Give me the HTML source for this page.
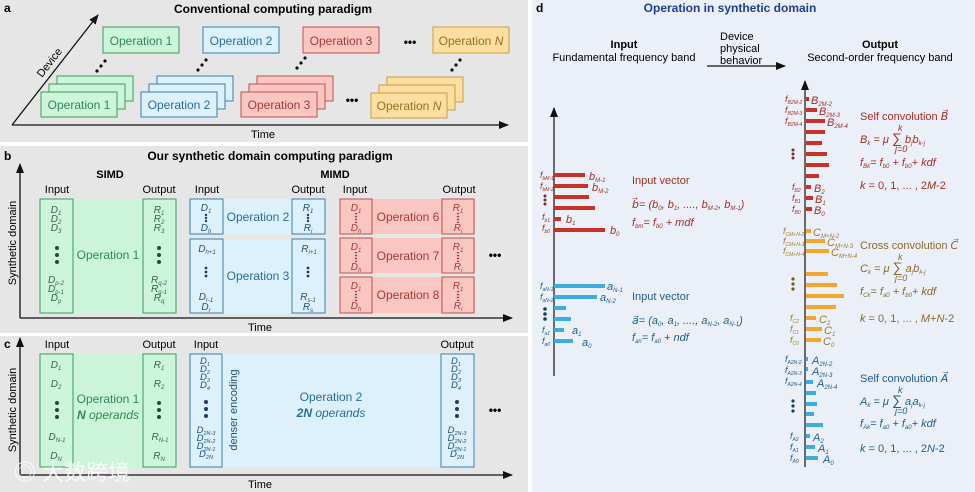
<!DOCTYPE html>
<html><head><meta charset="utf-8"><style>
html,body{margin:0;padding:0;background:#fff}
svg{display:block}
text{font-family:"Liberation Sans",Arial,sans-serif}
.it{font-style:italic}
</style></head><body>
<svg width="975" height="492" viewBox="0 0 975 492" xmlns="http://www.w3.org/2000/svg">
<defs>
<marker id="ah" markerWidth="10" markerHeight="8" refX="9" refY="4" orient="auto" markerUnits="userSpaceOnUse"><path d="M0,0 L10,4 L0,8 z" fill="#111"/></marker>
</defs>
<!-- backgrounds -->
<rect x="0" y="0" width="528" height="142" fill="#e6e6e6"/>
<rect x="0" y="146" width="528" height="187" fill="#e6e6e6"/>
<rect x="0" y="336" width="528" height="156" fill="#e6e6e6"/>
<rect x="532" y="0" width="443" height="492" fill="#eaeff8"/>

<!-- PANEL A -->
<text x="4" y="12" font-size="12" font-weight="bold">a</text>
<text x="273" y="13" font-size="12" font-weight="bold" text-anchor="middle">Conventional computing paradigm</text>
<line x1="12" y1="125" x2="508" y2="125" stroke="#111" stroke-width="1.3" marker-end="url(#ah)"/>
<line x1="12" y1="125" x2="98" y2="15" stroke="#111" stroke-width="1.3" marker-end="url(#ah)"/>
<text x="263" y="138" font-size="11" text-anchor="middle">Time</text>
<text x="0" y="0" font-size="11" transform="translate(42,78) rotate(-52)">Device</text>
<g font-size="12">
<rect x="103" y="27" width="76" height="26" fill="#ccf5dc" stroke="#3a9c5a"/><text x="141" y="45" text-anchor="middle" fill="#2e8a4f">Operation 1</text>
<rect x="203" y="27" width="76" height="26" fill="#dcf1fb" stroke="#3a7ea6"/><text x="241" y="45" text-anchor="middle" fill="#2a6d9a">Operation 2</text>
<rect x="303" y="27" width="76" height="26" fill="#f9c6c2" stroke="#c0504d"/><text x="341" y="45" text-anchor="middle" fill="#a83a36">Operation 3</text>
<rect x="433" y="27" width="76" height="26" fill="#fbdea0" stroke="#c9a040"/><text x="471" y="45" text-anchor="middle" fill="#9a7020">Operation <tspan class="it">N</tspan></text>
<text x="410" y="46" font-size="12" font-weight="bold" text-anchor="middle">•••</text>
<!-- stacks -->
<rect x="57" y="76" width="76" height="25" fill="#ccf5dc" stroke="#3a9c5a"/>
<rect x="49" y="84" width="76" height="25" fill="#ccf5dc" stroke="#3a9c5a"/>
<rect x="41" y="92" width="76" height="25" fill="#ccf5dc" stroke="#3a9c5a"/><text x="79" y="109" text-anchor="middle" fill="#2e8a4f">Operation 1</text>
<rect x="157" y="76" width="76" height="25" fill="#dcf1fb" stroke="#3a7ea6"/>
<rect x="149" y="84" width="76" height="25" fill="#dcf1fb" stroke="#3a7ea6"/>
<rect x="141" y="92" width="76" height="25" fill="#dcf1fb" stroke="#3a7ea6"/><text x="179" y="109" text-anchor="middle" fill="#2a6d9a">Operation 2</text>
<rect x="257" y="76" width="76" height="25" fill="#f9c6c2" stroke="#c0504d"/>
<rect x="249" y="84" width="76" height="25" fill="#f9c6c2" stroke="#c0504d"/>
<rect x="241" y="92" width="76" height="25" fill="#f9c6c2" stroke="#c0504d"/><text x="279" y="109" text-anchor="middle" fill="#a83a36">Operation 3</text>
<rect x="387" y="77" width="76" height="25" fill="#fbdea0" stroke="#c9a040"/>
<rect x="379" y="85" width="76" height="25" fill="#fbdea0" stroke="#c9a040"/>
<rect x="371" y="93" width="76" height="25" fill="#fbdea0" stroke="#c9a040"/><text x="409" y="110" text-anchor="middle" fill="#9a7020">Operation <tspan class="it">N</tspan></text>
<text x="352" y="104" font-size="12" font-weight="bold" text-anchor="middle">•••</text>
</g>
<g fill="#111">
<circle cx="97" cy="71" r="1.6"/><circle cx="101" cy="66" r="1.6"/><circle cx="105" cy="61" r="1.6"/>
<circle cx="198" cy="70" r="1.6"/><circle cx="202" cy="65" r="1.6"/><circle cx="206" cy="60" r="1.6"/>
<circle cx="297" cy="68" r="1.6"/><circle cx="301" cy="63" r="1.6"/><circle cx="305" cy="58" r="1.6"/>
<circle cx="452" cy="70" r="1.6"/><circle cx="456" cy="65" r="1.6"/><circle cx="460" cy="60" r="1.6"/>
</g>

<!-- PANEL B -->
<text x="4" y="160" font-size="12" font-weight="bold">b</text>
<text x="270" y="160" font-size="12" font-weight="bold" text-anchor="middle">Our synthetic domain computing paradigm</text>
<line x1="20" y1="318" x2="20" y2="164" stroke="#111" stroke-width="1.3" marker-end="url(#ah)"/>
<line x1="20" y1="318" x2="512" y2="318" stroke="#111" stroke-width="1.3" marker-end="url(#ah)"/>
<text x="260" y="331" font-size="11" text-anchor="middle">Time</text>
<text x="0" y="0" font-size="11" text-anchor="middle" transform="translate(16,243) rotate(-90)">Synthetic domain</text>
<text x="110" y="178" font-size="11" font-weight="bold" text-anchor="middle">SIMD</text>
<text x="335" y="178" font-size="11" font-weight="bold" text-anchor="middle">MIMD</text>
<g font-size="11" text-anchor="middle">
<text x="57" y="193">Input</text><text x="159" y="193">Output</text>
<text x="207" y="193">Input</text><text x="308" y="193">Output</text>
<text x="355" y="193">Input</text><text x="459" y="193">Output</text>
</g>
<!-- green -->
<rect x="40" y="199" width="136" height="114" fill="#ccf5dc"/>
<rect x="40" y="199" width="33" height="114" fill="#ccf5dc" stroke="#3a9c5a"/>
<rect x="143" y="199" width="33" height="114" fill="#ccf5dc" stroke="#3a9c5a"/>
<text x="108" y="259" font-size="12" text-anchor="middle" fill="#2e8a4f">Operation 1</text>
<g font-size="10" class="it" fill="#2e6a45" text-anchor="middle">
<text x="56" y="213">D<tspan font-size="6" dy="2">1</tspan></text>
<text x="56" y="222">D<tspan font-size="6" dy="2">2</tspan></text>
<text x="56" y="231">D<tspan font-size="6" dy="2">3</tspan></text>
<text x="56" y="283">D<tspan font-size="6" dy="2">p-2</tspan></text>
<text x="56" y="292">D<tspan font-size="6" dy="2">p-1</tspan></text>
<text x="56" y="301">D<tspan font-size="6" dy="2">p</tspan></text>
<text x="159" y="213">R<tspan font-size="6" dy="2">1</tspan></text>
<text x="159" y="222">R<tspan font-size="6" dy="2">2</tspan></text>
<text x="159" y="231">R<tspan font-size="6" dy="2">3</tspan></text>
<text x="159" y="283">R<tspan font-size="6" dy="2">q-2</tspan></text>
<text x="159" y="292">R<tspan font-size="6" dy="2">q-1</tspan></text>
<text x="159" y="301">R<tspan font-size="6" dy="2">q</tspan></text>
</g>
<g fill="#1e4f35"><circle cx="57" cy="248" r="2"/><circle cx="57" cy="255" r="2"/><circle cx="57" cy="262" r="2"/>
<circle cx="159" cy="248" r="2"/><circle cx="159" cy="255" r="2"/><circle cx="159" cy="262" r="2"/></g>
<!-- blue -->
<rect x="190" y="199" width="135" height="35" fill="#dcf1fb"/>
<rect x="190" y="239" width="135" height="74" fill="#dcf1fb"/>
<rect x="190" y="199" width="33" height="35" fill="#dcf1fb" stroke="#3a7ea6"/>
<rect x="292" y="199" width="33" height="35" fill="#dcf1fb" stroke="#3a7ea6"/>
<rect x="190" y="239" width="33" height="74" fill="#dcf1fb" stroke="#3a7ea6"/>
<rect x="292" y="239" width="33" height="74" fill="#dcf1fb" stroke="#3a7ea6"/>
<text x="258" y="221" font-size="12" text-anchor="middle" fill="#2a6d9a">Operation 2</text>
<text x="258" y="280" font-size="12" text-anchor="middle" fill="#2a6d9a">Operation 3</text>
<g font-size="10" class="it" fill="#23527a" text-anchor="middle">
<text x="206" y="211">D<tspan font-size="6" dy="2">1</tspan></text>
<text x="206" y="231">D<tspan font-size="6" dy="2">h</tspan></text>
<text x="308" y="211">R<tspan font-size="6" dy="2">1</tspan></text>
<text x="308" y="231">R<tspan font-size="6" dy="2">i</tspan></text>
<text x="207" y="252">D<tspan font-size="6" dy="2">h+1</tspan></text>
<text x="206" y="300">D<tspan font-size="6" dy="2">r-1</tspan></text>
<text x="206" y="310">D<tspan font-size="6" dy="2">r</tspan></text>
<text x="309" y="252">R<tspan font-size="6" dy="2">i+1</tspan></text>
<text x="308" y="300">R<tspan font-size="6" dy="2">s-1</tspan></text>
<text x="308" y="310">R<tspan font-size="6" dy="2">s</tspan></text>
</g>
<g fill="#1d3f5e">
<circle cx="206" cy="215" r="1.2"/><circle cx="206" cy="218" r="1.2"/><circle cx="206" cy="221" r="1.2"/>
<circle cx="308" cy="215" r="1.2"/><circle cx="308" cy="218" r="1.2"/><circle cx="308" cy="221" r="1.2"/>
<circle cx="206" cy="268" r="1.4"/><circle cx="206" cy="272" r="1.4"/><circle cx="206" cy="276" r="1.4"/>
<circle cx="308" cy="268" r="1.4"/><circle cx="308" cy="272" r="1.4"/><circle cx="308" cy="276" r="1.4"/>
</g>
<!-- red -->
<g>
<rect x="340" y="199" width="135" height="35" fill="#f9c6c2"/>
<rect x="340" y="238" width="135" height="35" fill="#f9c6c2"/>
<rect x="340" y="277" width="135" height="36" fill="#f9c6c2"/>
<rect x="340" y="199" width="32" height="35" fill="#f9c6c2" stroke="#c0504d"/>
<rect x="442" y="199" width="32" height="35" fill="#f9c6c2" stroke="#c0504d"/>
<rect x="340" y="238" width="32" height="35" fill="#f9c6c2" stroke="#c0504d"/>
<rect x="442" y="238" width="32" height="35" fill="#f9c6c2" stroke="#c0504d"/>
<rect x="340" y="277" width="32" height="36" fill="#f9c6c2" stroke="#c0504d"/>
<rect x="442" y="277" width="32" height="36" fill="#f9c6c2" stroke="#c0504d"/>
</g>
<g font-size="12" text-anchor="middle" fill="#a83a36">
<text x="408" y="221">Operation 6</text><text x="408" y="260">Operation 7</text><text x="408" y="299">Operation 8</text>
</g>
<g font-size="10" class="it" fill="#a83a36" text-anchor="middle">
<text x="356" y="211">D<tspan font-size="6" dy="2">1</tspan></text><text x="356" y="231">D<tspan font-size="6" dy="2">h</tspan></text>
<text x="458" y="211">R<tspan font-size="6" dy="2">1</tspan></text><text x="458" y="231">R<tspan font-size="6" dy="2">i</tspan></text>
<text x="356" y="250">D<tspan font-size="6" dy="2">1</tspan></text><text x="356" y="270">D<tspan font-size="6" dy="2">h</tspan></text>
<text x="458" y="250">R<tspan font-size="6" dy="2">1</tspan></text><text x="458" y="270">R<tspan font-size="6" dy="2">i</tspan></text>
<text x="356" y="289">D<tspan font-size="6" dy="2">1</tspan></text><text x="356" y="309">D<tspan font-size="6" dy="2">h</tspan></text>
<text x="458" y="289">R<tspan font-size="6" dy="2">1</tspan></text><text x="458" y="309">R<tspan font-size="6" dy="2">i</tspan></text>
</g>
<g stroke="#a83a36" stroke-width="2.2" stroke-dasharray="1.3,1.6">
<line x1="356" y1="213" x2="356" y2="223"/><line x1="458" y1="213" x2="458" y2="223"/>
<line x1="356" y1="252" x2="356" y2="262"/><line x1="458" y1="252" x2="458" y2="262"/>
<line x1="356" y1="291" x2="356" y2="301"/><line x1="458" y1="291" x2="458" y2="301"/>
</g>
<text x="495" y="259" font-size="12" font-weight="bold" text-anchor="middle">•••</text>

<!-- PANEL C -->
<text x="4" y="348" font-size="12" font-weight="bold">c</text>
<line x1="20" y1="475" x2="20" y2="338" stroke="#111" stroke-width="1.3" marker-end="url(#ah)"/>
<line x1="20" y1="475" x2="512" y2="475" stroke="#111" stroke-width="1.3" marker-end="url(#ah)"/>
<text x="260" y="488" font-size="11" text-anchor="middle">Time</text>
<text x="0" y="0" font-size="11" text-anchor="middle" transform="translate(16,410) rotate(-90)">Synthetic domain</text>
<g font-size="11" text-anchor="middle">
<text x="57" y="348">Input</text><text x="159" y="348">Output</text>
<text x="206" y="348">Input</text><text x="457" y="348">Output</text>
</g>
<rect x="40" y="354" width="136" height="113" fill="#ccf5dc"/>
<rect x="40" y="354" width="33" height="113" fill="#ccf5dc" stroke="#3a9c5a"/>
<rect x="143" y="354" width="33" height="113" fill="#ccf5dc" stroke="#3a9c5a"/>
<text x="108" y="403" font-size="12" text-anchor="middle" fill="#2e8a4f">Operation 1</text>
<text x="108" y="419" font-size="12" text-anchor="middle" fill="#2e8a4f" class="it"><tspan font-weight="bold">N</tspan> operands</text>
<g font-size="10" class="it" fill="#2e6a45" text-anchor="middle">
<text x="56" y="368">D<tspan font-size="6" dy="2">1</tspan></text>
<text x="56" y="387">D<tspan font-size="6" dy="2">2</tspan></text>
<text x="57" y="440">D<tspan font-size="6" dy="2">N-1</tspan></text>
<text x="56" y="459">D<tspan font-size="6" dy="2">N</tspan></text>
<text x="159" y="368">R<tspan font-size="6" dy="2">1</tspan></text>
<text x="159" y="387">R<tspan font-size="6" dy="2">2</tspan></text>
<text x="160" y="440">R<tspan font-size="6" dy="2">N-1</tspan></text>
<text x="159" y="459">R<tspan font-size="6" dy="2">N</tspan></text>
</g>
<g fill="#1e4f35"><circle cx="57" cy="403" r="2"/><circle cx="57" cy="410" r="2"/><circle cx="57" cy="417" r="2"/>
<circle cx="159" cy="403" r="2"/><circle cx="159" cy="410" r="2"/><circle cx="159" cy="417" r="2"/></g>
<rect x="190" y="354" width="285" height="113" fill="#dcf1fb"/>
<rect x="190" y="354" width="32" height="113" fill="#dcf1fb" stroke="#3a7ea6"/>
<rect x="441" y="354" width="33" height="113" fill="#dcf1fb" stroke="#3a7ea6"/>
<text x="0" y="0" font-size="11" fill="#23527a" text-anchor="middle" transform="translate(237,410) rotate(-90)">denser encoding</text>
<text x="331" y="401" font-size="12" text-anchor="middle" fill="#2a6d9a">Operation 2</text>
<text x="331" y="417" font-size="12" text-anchor="middle" fill="#2a6d9a" class="it"><tspan font-weight="bold">2N</tspan> operands</text>
<g font-size="9.5" class="it" fill="#23527a" text-anchor="middle">
<text x="205" y="364">D<tspan font-size="5.5" dy="2">1</tspan></text>
<text x="205" y="372">D<tspan font-size="5.5" dy="2">2</tspan></text>
<text x="205" y="380">D<tspan font-size="5.5" dy="2">3</tspan></text>
<text x="205" y="388">D<tspan font-size="5.5" dy="2">4</tspan></text>
<text x="206" y="433">D<tspan font-size="5.5" dy="2">2N-3</tspan></text>
<text x="206" y="441">D<tspan font-size="5.5" dy="2">2N-2</tspan></text>
<text x="206" y="449">D<tspan font-size="5.5" dy="2">2N-1</tspan></text>
<text x="206" y="457">D<tspan font-size="5.5" dy="2">2N</tspan></text>
<text x="456" y="364">D<tspan font-size="5.5" dy="2">1</tspan></text>
<text x="456" y="372">D<tspan font-size="5.5" dy="2">2</tspan></text>
<text x="456" y="380">D<tspan font-size="5.5" dy="2">3</tspan></text>
<text x="456" y="388">D<tspan font-size="5.5" dy="2">4</tspan></text>
<text x="457" y="433">D<tspan font-size="5.5" dy="2">2N-3</tspan></text>
<text x="457" y="441">D<tspan font-size="5.5" dy="2">2N-2</tspan></text>
<text x="457" y="449">D<tspan font-size="5.5" dy="2">2N-1</tspan></text>
<text x="457" y="457">D<tspan font-size="5.5" dy="2">2N</tspan></text>
</g>
<g fill="#1d3f5e"><circle cx="206" cy="402" r="2"/><circle cx="206" cy="409" r="2"/><circle cx="206" cy="416" r="2"/>
<circle cx="457" cy="402" r="2"/><circle cx="457" cy="409" r="2"/><circle cx="457" cy="416" r="2"/></g>
<text x="495" y="414" font-size="12" font-weight="bold" text-anchor="middle">•••</text>
<text x="14" y="480" font-size="22" fill="#fff" opacity="0.85" font-family="'Liberation Sans','Noto Sans CJK SC',sans-serif">◎ 大数跨境</text>

<!-- PANEL D -->
<text x="536" y="12" font-size="12" font-weight="bold">d</text>
<text x="730" y="12" font-size="12" font-weight="bold" fill="#1f3f8f" text-anchor="middle">Operation in synthetic domain</text>
<text x="624" y="48" font-size="11" font-weight="bold" text-anchor="middle">Input</text>
<text x="624" y="61" font-size="11" text-anchor="middle">Fundamental frequency band</text>
<text x="720" y="40" font-size="11">Device</text>
<text x="720" y="52" font-size="11">physical</text>
<text x="720" y="64" font-size="11">behavior</text>
<line x1="707" y1="66" x2="785" y2="66" stroke="#111" stroke-width="1.3" marker-end="url(#ah)"/>
<text x="880" y="48" font-size="11" font-weight="bold" text-anchor="middle">Output</text>
<text x="880" y="61" font-size="11" text-anchor="middle">Second-order frequency band</text>

<!-- left axis -->
<line x1="554" y1="376" x2="554" y2="108" stroke="#222" stroke-width="1.3" marker-end="url(#ah)"/>
<g fill="#c8302a">
<rect x="554" y="173" width="31" height="4"/><rect x="554" y="184" width="34" height="4"/>
<rect x="554" y="195" width="35" height="4"/><rect x="554" y="206" width="41" height="4"/>
<rect x="554" y="217" width="7" height="4"/><rect x="554" y="228" width="51" height="4"/>
</g>
<g fill="#3aaee0">
<rect x="554" y="284" width="51" height="4"/><rect x="554" y="295" width="43" height="4"/>
<rect x="554" y="306" width="12" height="4"/><rect x="554" y="317" width="17" height="4"/>
<rect x="554" y="328" width="10" height="4"/><rect x="554" y="339" width="19" height="4"/>
</g>
<g class="it" fill="#a0302a">
<text x="540" y="178" font-size="9">f<tspan font-size="5" dy="2">bM-1</tspan></text>
<text x="540" y="189" font-size="9">f<tspan font-size="5" dy="2">bM-2</tspan></text>
<text x="542" y="220" font-size="9">f<tspan font-size="5" dy="2">b1</tspan></text>
<text x="542" y="231" font-size="9">f<tspan font-size="5" dy="2">b0</tspan></text>
<text x="589" y="180" font-size="11">b<tspan font-size="6" dy="2">M-1</tspan></text>
<text x="592" y="191" font-size="11">b<tspan font-size="6" dy="2">M-2</tspan></text>
<text x="566" y="223" font-size="11">b<tspan font-size="6" dy="2">1</tspan></text>
<text x="610" y="234" font-size="11">b<tspan font-size="6" dy="2">0</tspan></text>
</g>
<g fill="#7a2a25"><circle cx="545" cy="196" r="1.5"/><circle cx="545" cy="200" r="1.5"/><circle cx="545" cy="204" r="1.5"/></g>
<g fill="#a0302a" font-size="11">
<text x="632" y="184">Input vector</text>
<text x="632" y="208" class="it">b⃗= (b<tspan font-size="6" dy="2">0</tspan><tspan dy="-2">, b</tspan><tspan font-size="6" dy="2">1</tspan><tspan dy="-2">, ...., b</tspan><tspan font-size="6" dy="2">M-2</tspan><tspan dy="-2">, b</tspan><tspan font-size="6" dy="2">M-1</tspan><tspan dy="-2">)</tspan></text>
<text x="632" y="226" class="it">f<tspan font-size="6" dy="2">bm</tspan><tspan dy="-2">= f</tspan><tspan font-size="6" dy="2">b0</tspan><tspan dy="-2"> + mdf</tspan></text>
</g>
<g class="it" fill="#1f5f8a">
<text x="540" y="289" font-size="9">f<tspan font-size="5" dy="2">aN-1</tspan></text>
<text x="540" y="300" font-size="9">f<tspan font-size="5" dy="2">aN-2</tspan></text>
<text x="542" y="333" font-size="9">f<tspan font-size="5" dy="2">a1</tspan></text>
<text x="542" y="344" font-size="9">f<tspan font-size="5" dy="2">a0</tspan></text>
<text x="607" y="290" font-size="11">a<tspan font-size="6" dy="2">N-1</tspan></text>
<text x="600" y="301" font-size="11">a<tspan font-size="6" dy="2">N-2</tspan></text>
<text x="572" y="334" font-size="11">a<tspan font-size="6" dy="2">1</tspan></text>
<text x="582" y="346" font-size="11">a<tspan font-size="6" dy="2">0</tspan></text>
</g>
<g fill="#1d3f5e"><circle cx="545" cy="309" r="1.8"/><circle cx="545" cy="314" r="1.8"/><circle cx="545" cy="319" r="1.8"/></g>
<g fill="#1f5f8a" font-size="11">
<text x="632" y="300">Input vector</text>
<text x="632" y="324" class="it">a⃗= (a<tspan font-size="6" dy="2">0</tspan><tspan dy="-2">, a</tspan><tspan font-size="6" dy="2">1</tspan><tspan dy="-2">, ...., a</tspan><tspan font-size="6" dy="2">N-2</tspan><tspan dy="-2">, a</tspan><tspan font-size="6" dy="2">N-1</tspan><tspan dy="-2">)</tspan></text>
<text x="632" y="341" class="it">f<tspan font-size="6" dy="2">an</tspan><tspan dy="-2">= f</tspan><tspan font-size="6" dy="2">a0</tspan><tspan dy="-2"> + ndf</tspan></text>
</g>

<!-- right axis -->
<line x1="805" y1="467" x2="805" y2="81" stroke="#222" stroke-width="1.3" marker-end="url(#ah)"/>
<g fill="#c8302a">
<rect x="806" y="97" width="3" height="4"/><rect x="806" y="108" width="11" height="4"/>
<rect x="806" y="119" width="19" height="4"/><rect x="806" y="130" width="19" height="4"/>
<rect x="806" y="141" width="16" height="4"/><rect x="806" y="152" width="21" height="4"/>
<rect x="806" y="163" width="23" height="4"/><rect x="806" y="174" width="13" height="4"/>
<rect x="806" y="185" width="5" height="4"/><rect x="806" y="196" width="7" height="4"/>
<rect x="806" y="207" width="6" height="4"/>
</g>
<g fill="#f0a830">
<rect x="806" y="229" width="5" height="4"/><rect x="806" y="239" width="19" height="4"/>
<rect x="806" y="249" width="23" height="4"/><rect x="806" y="272" width="22" height="4"/>
<rect x="806" y="283" width="31" height="4"/><rect x="806" y="294" width="38" height="4"/>
<rect x="806" y="305" width="30" height="4"/><rect x="806" y="316" width="10" height="4"/>
<rect x="806" y="327" width="16" height="4"/><rect x="806" y="338" width="15" height="4"/>
</g>
<g fill="#3aaee0">
<rect x="806" y="357" width="2" height="4"/><rect x="806" y="367" width="2" height="4"/>
<rect x="806" y="380" width="7" height="4"/><rect x="806" y="391" width="10" height="4"/>
<rect x="806" y="402" width="11" height="4"/><rect x="806" y="412" width="8" height="4"/>
<rect x="806" y="423" width="17" height="4"/><rect x="806" y="434" width="4" height="4"/>
<rect x="806" y="445" width="9" height="4"/><rect x="806" y="456" width="12" height="4"/>
</g>
<!-- right labels red -->
<g class="it" fill="#a0302a">
<text x="785" y="102" font-size="9">f<tspan font-size="5" dy="2">B2M-2</tspan></text>
<text x="785" y="113" font-size="9">f<tspan font-size="5" dy="2">B2M-3</tspan></text>
<text x="785" y="124" font-size="9">f<tspan font-size="5" dy="2">B2M-4</tspan></text>
<text x="792" y="190" font-size="9">f<tspan font-size="5" dy="2">B2</tspan></text>
<text x="792" y="201" font-size="9">f<tspan font-size="5" dy="2">B1</tspan></text>
<text x="792" y="212" font-size="9">f<tspan font-size="5" dy="2">B0</tspan></text>
<text x="811" y="104" font-size="11">B<tspan font-size="6" dy="2">2M-2</tspan></text>
<text x="819" y="115" font-size="11">B<tspan font-size="6" dy="2">2M-3</tspan></text>
<text x="827" y="126" font-size="11">B<tspan font-size="6" dy="2">2M-4</tspan></text>
<text x="814" y="192" font-size="11">B<tspan font-size="6" dy="2">2</tspan></text>
<text x="815" y="203" font-size="11">B<tspan font-size="6" dy="2">1</tspan></text>
<text x="814" y="214" font-size="11">B<tspan font-size="6" dy="2">0</tspan></text>
</g>
<g fill="#7a2a25"><circle cx="793" cy="150" r="1.5"/><circle cx="793" cy="154" r="1.5"/><circle cx="793" cy="158" r="1.5"/></g>
<g fill="#a0302a" font-size="11">
<text x="860" y="120">Self convolution <tspan class="it">B⃗</tspan></text>
<text x="860" y="143" class="it">B<tspan font-size="6" dy="2">k</tspan><tspan dy="-2"> = μ </tspan><tspan font-size="14" font-style="normal">∑</tspan><tspan> b</tspan><tspan font-size="6" dy="2">j</tspan><tspan dy="-2">b</tspan><tspan font-size="6" dy="2">k-j</tspan></text>
<text x="898" y="131" font-size="9" class="it">k</text>
<text x="895" y="152" font-size="9" class="it">j=0</text>
<text x="860" y="166" class="it">f<tspan font-size="6" dy="2">Bk</tspan><tspan dy="-2">= f</tspan><tspan font-size="6" dy="2">b0</tspan><tspan dy="-2"> + f</tspan><tspan font-size="6" dy="2">b0</tspan><tspan dy="-2">+ kdf</tspan></text>
<text x="860" y="189"><tspan class="it">k</tspan> = 0, 1, ... , 2<tspan class="it">M</tspan>-2</text>
</g>
<!-- orange -->
<g class="it" fill="#a07a2a">
<text x="783" y="234" font-size="9">f<tspan font-size="5" dy="2">CM+N-2</tspan></text>
<text x="783" y="244" font-size="9">f<tspan font-size="5" dy="2">CM+N-3</tspan></text>
<text x="783" y="254" font-size="9">f<tspan font-size="5" dy="2">CM+N-4</tspan></text>
<text x="790" y="321" font-size="9">f<tspan font-size="5" dy="2">C2</tspan></text>
<text x="790" y="332" font-size="9">f<tspan font-size="5" dy="2">C1</tspan></text>
<text x="790" y="343" font-size="9">f<tspan font-size="5" dy="2">C0</tspan></text>
<text x="813" y="236" font-size="11">C<tspan font-size="6" dy="2">M+N-2</tspan></text>
<text x="827" y="246" font-size="11">C<tspan font-size="6" dy="2">M+N-3</tspan></text>
<text x="831" y="256" font-size="11">C<tspan font-size="6" dy="2">M+N-4</tspan></text>
<text x="819" y="323" font-size="11">C<tspan font-size="6" dy="2">2</tspan></text>
<text x="824" y="334" font-size="11">C<tspan font-size="6" dy="2">1</tspan></text>
<text x="823" y="345" font-size="11">C<tspan font-size="6" dy="2">0</tspan></text>
</g>
<g fill="#7a5a1a"><circle cx="793" cy="279" r="1.6"/><circle cx="793" cy="284" r="1.6"/><circle cx="793" cy="289" r="1.6"/></g>
<g fill="#8a6a2a" font-size="11">
<text x="860" y="249">Cross convolution <tspan class="it">C⃗</tspan></text>
<text x="860" y="272" class="it">C<tspan font-size="6" dy="2">k</tspan><tspan dy="-2"> = μ </tspan><tspan font-size="14" font-style="normal">∑</tspan><tspan> a</tspan><tspan font-size="6" dy="2">j</tspan><tspan dy="-2">b</tspan><tspan font-size="6" dy="2">k-j</tspan></text>
<text x="898" y="260" font-size="9" class="it">k</text>
<text x="895" y="281" font-size="9" class="it">j=0</text>
<text x="860" y="295" class="it">f<tspan font-size="6" dy="2">Ck</tspan><tspan dy="-2">= f</tspan><tspan font-size="6" dy="2">a0</tspan><tspan dy="-2"> + f</tspan><tspan font-size="6" dy="2">b0</tspan><tspan dy="-2">+ kdf</tspan></text>
<text x="860" y="322"><tspan class="it">k</tspan> = 0, 1, ... , <tspan class="it">M</tspan>+<tspan class="it">N</tspan>-2</text>
</g>
<!-- blue A -->
<g class="it" fill="#1f5f8a">
<text x="785" y="362" font-size="9">f<tspan font-size="5" dy="2">A2N-2</tspan></text>
<text x="785" y="373" font-size="9">f<tspan font-size="5" dy="2">A2N-3</tspan></text>
<text x="785" y="384" font-size="9">f<tspan font-size="5" dy="2">A2N-4</tspan></text>
<text x="790" y="439" font-size="9">f<tspan font-size="5" dy="2">A2</tspan></text>
<text x="790" y="450" font-size="9">f<tspan font-size="5" dy="2">A1</tspan></text>
<text x="790" y="461" font-size="9">f<tspan font-size="5" dy="2">A0</tspan></text>
<text x="812" y="364" font-size="11">A<tspan font-size="6" dy="2">2N-2</tspan></text>
<text x="812" y="375" font-size="11">A<tspan font-size="6" dy="2">2N-3</tspan></text>
<text x="817" y="387" font-size="11">A<tspan font-size="6" dy="2">2N-4</tspan></text>
<text x="813" y="441" font-size="11">A<tspan font-size="6" dy="2">2</tspan></text>
<text x="818" y="452" font-size="11">A<tspan font-size="6" dy="2">1</tspan></text>
<text x="823" y="463" font-size="11">A<tspan font-size="6" dy="2">0</tspan></text>
</g>
<g fill="#1d3f5e"><circle cx="793" cy="401" r="1.6"/><circle cx="793" cy="406" r="1.6"/><circle cx="793" cy="411" r="1.6"/></g>
<g fill="#1f5f8a" font-size="11">
<text x="860" y="382">Self convolution <tspan class="it">A⃗</tspan></text>
<text x="860" y="405" class="it">A<tspan font-size="6" dy="2">k</tspan><tspan dy="-2"> = μ </tspan><tspan font-size="14" font-style="normal">∑</tspan><tspan> a</tspan><tspan font-size="6" dy="2">j</tspan><tspan dy="-2">a</tspan><tspan font-size="6" dy="2">k-j</tspan></text>
<text x="898" y="393" font-size="9" class="it">k</text>
<text x="895" y="414" font-size="9" class="it">j=0</text>
<text x="860" y="427" class="it">f<tspan font-size="6" dy="2">Ak</tspan><tspan dy="-2">= f</tspan><tspan font-size="6" dy="2">a0</tspan><tspan dy="-2"> + f</tspan><tspan font-size="6" dy="2">a0</tspan><tspan dy="-2">+ kdf</tspan></text>
<text x="860" y="452"><tspan class="it">k</tspan> = 0, 1, ... , 2<tspan class="it">N</tspan>-2</text>
</g>
</svg>
</body></html>
